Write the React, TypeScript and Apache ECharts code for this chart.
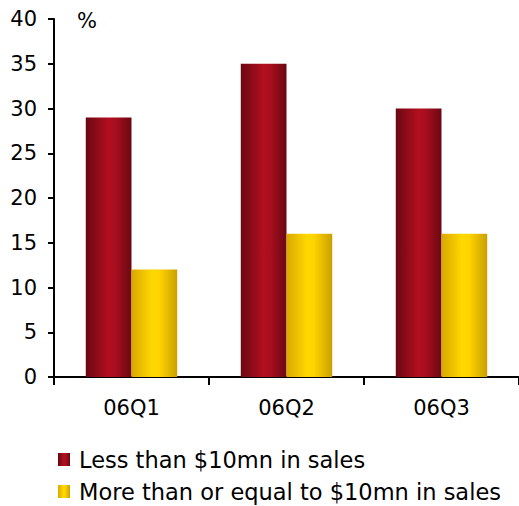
import React, { useEffect, useRef } from "react";
import * as echarts from "echarts";

const categories = ["06Q1", "06Q2", "06Q3"];
const lessThan10 = [29, 35, 30];
const moreThan10 = [12, 16, 16];
const seriesNames = ["Less than $10mn in sales", "More than or equal to $10mn in sales"];

const redGrad = new echarts.graphic.LinearGradient(0, 0, 1, 0, [
  { offset: 0, color: "#6a0812" },
  { offset: 0.5, color: "#b20f20" },
  { offset: 0.65, color: "#a80e1e" },
  { offset: 1, color: "#6a0812" },
]);
const yellowGrad = new echarts.graphic.LinearGradient(0, 0, 1, 0, [
  { offset: 0, color: "#d9a800" },
  { offset: 0.45, color: "#ffd800" },
  { offset: 0.6, color: "#ffd400" },
  { offset: 1, color: "#c9a000" },
]);

export default function App() {
  const ref = useRef<HTMLDivElement>(null);
  useEffect(() => {
    const chart = echarts.init(ref.current!, null, { renderer: "svg" });
    const font = "DejaVu Sans, Verdana, sans-serif";
    const legendBase = {
      orient: "horizontal",
      left: 58,
      padding: 0,
      itemWidth: 12,
      itemHeight: 13,
      icon: "rect",
      textStyle: { fontSize: 22.5, fontFamily: font, color: "#000", padding: [0, 0, 0, 4] },
    };
    chart.setOption({
      animation: false,
      textStyle: { fontFamily: font },
      grid: { left: 54, right: 0, top: 19, bottom: 129 },
      graphic: [
        { type: "text", left: 77, top: 10, style: { text: "%", fontSize: 21, fontFamily: font, fill: "#000" } },
      ],
      legend: [
        { ...legendBase, top: 448, data: [seriesNames[0]] },
        { ...legendBase, top: 480, data: [seriesNames[1]] },
      ],
      xAxis: {
        type: "category",
        data: categories,
        axisLine: { lineStyle: { color: "#000", width: 2 } },
        axisTick: { show: true, length: 8, lineStyle: { color: "#000", width: 2 } },
        axisLabel: { fontSize: 21, color: "#000", margin: 20, fontFamily: font },
      },
      yAxis: {
        type: "value",
        min: 0,
        max: 40,
        interval: 5,
        splitLine: { show: false },
        axisLine: { show: true, lineStyle: { color: "#000", width: 2 } },
        axisTick: { show: true, length: 6, lineStyle: { color: "#000", width: 2 } },
        axisLabel: { fontSize: 21, color: "#000", margin: 17, fontFamily: font },
      },
      series: [
        {
          name: seriesNames[0],
          type: "bar",
          data: lessThan10,
          barWidth: "29.5%",
          barGap: "0%",
          itemStyle: { color: redGrad },
        },
        {
          name: seriesNames[1],
          type: "bar",
          data: moreThan10,
          barWidth: "29.5%",
          barGap: "0%",
          itemStyle: { color: yellowGrad },
        },
      ],
    });
    return () => chart.dispose();
  }, []);
  return <div ref={ref} style={{ position: "fixed", left: 0, top: 0, width: 519, height: 506, background: "#fff" }} />;
}
